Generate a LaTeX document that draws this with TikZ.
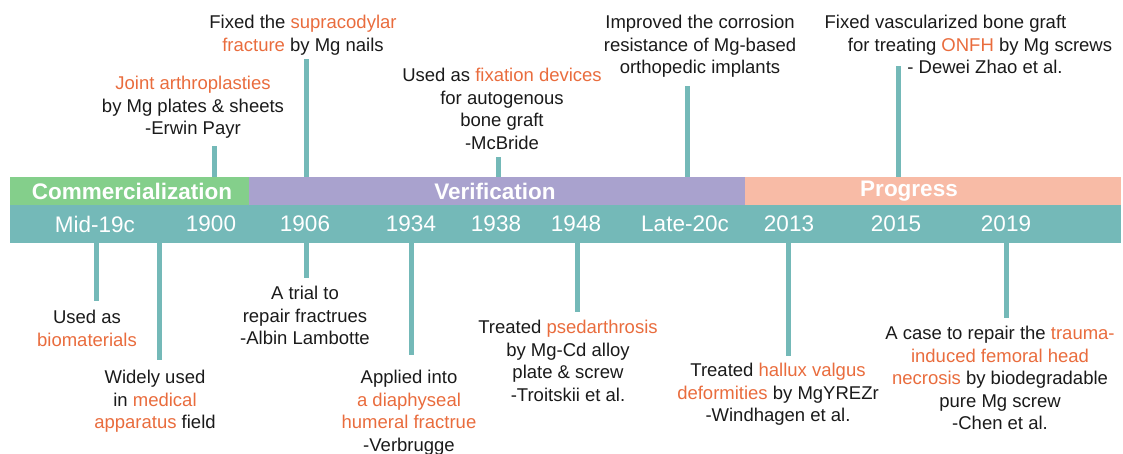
\documentclass[tikz,border=0pt]{standalone}
\usepackage{fontspec}
\setmainfont{Liberation Sans}
\usepackage{tikz}
\usetikzlibrary{positioning, calc}
\definecolor{axisteal}{HTML}{74B9B8}
\definecolor{commgreen}{HTML}{84CF8B}
\definecolor{verifpurple}{HTML}{A9A2CE}
\definecolor{progsalmon}{HTML}{F8BBA6}
\definecolor{keyorange}{HTML}{E96C3D}
\definecolor{notetext}{HTML}{1A1A1A}
\newcommand{\orng}[1]{\textcolor{keyorange}{#1}}

\begin{document}
\begin{tikzpicture}[x=1pt, y=-1pt,
  note/.style={align=center, anchor=north, inner sep=0pt, text=notetext, font=\fontsize{18.5}{22.5}\selectfont},
  yr/.style={inner sep=0pt, text=white, font=\fontsize{22.5}{24}\selectfont},
  phase/.style={inner sep=0pt, text=white, font=\fontsize{22.5}{24}\selectfont\bfseries},
  bar/.style={anchor=north west, inner sep=0pt, minimum height=#1},
  tick/.style={draw=axisteal, line width=5pt}]
  \useasboundingbox (0,0) rectangle (1123,454);

  \node[bar=28pt, fill=commgreen, minimum width=239pt] (comm) at (10,177) {};
  \node[bar=28pt, fill=verifpurple, minimum width=496pt] (verif) at (249,177) {};
  \node[bar=28pt, fill=progsalmon, minimum width=376pt] (prog) at (745,177) {};
  \node[bar=38pt, fill=axisteal, minimum width=1111pt] (axis) at (10,205) {};

  \node[phase] (commlabel) at (132,191) {Commercialization};
  \node[phase] (veriflabel) at (495,191) {Verification};
  \node[phase] (proglabel) at (909,191) {Progress};

  \foreach \x/\t/\n in {95/Mid-19c/mid, 211/1900/a, 305/1906/b, 411/1934/c, 496/1938/d,
                        576/1948/e, 685/Late-20c/late, 789/2013/f, 896/2015/g, 1006/2019/h}
    \node[yr] (yr\n) at (\x,224) {\t};

  \coordinate (up1900) at (214,146);
  \coordinate (up1906) at (306,59);
  \coordinate (up1938) at (498,157);
  \coordinate (uplate) at (687,86);
  \coordinate (up2015) at (898,66);
  \foreach \e in {up1900, up1906, up1938, uplate, up2015}
    \draw[tick] (\e |- comm.north) -- (\e);

  \coordinate (dnmid) at (96,301);
  \coordinate (dn1900) at (159,360);
  \coordinate (dn1906) at (306,278);
  \coordinate (dn1934) at (411,355);
  \coordinate (dn1948) at (577,312);
  \coordinate (dn2013) at (788,356);
  \coordinate (dn2019) at (1006,318);
  \foreach \e in {dnmid, dn1900, dn1906, dn1934, dn1948, dn2013, dn2019}
    \draw[tick] (\e |- axis.south) -- (\e);

  \node[note] (payr) at (193,76) {\orng{Joint arthroplasties}\\by Mg plates \& sheets\\-Erwin Payr};
  \node[note] (supra) at (303,15) {Fixed the \orng{supracodylar}\\\orng{fracture} by Mg nails};
  \node[note] (mcbride) at (502,68) {Used as \orng{fixation devices}\\for autogenous\\bone graft\\-McBride};
  \node[note] (corrosion) at (700,15) {Improved the corrosion\\resistance of Mg-based\\orthopedic implants};
  \node[note] (zhao) at (980,15) {Fixed vascularized bone graft\hspace*{69pt}\\for treating \orng{ONFH} by Mg screws\\\hspace*{10pt}- Dewei Zhao et al.};

  \node[note] (bio) at (87,310) {Used as\\\orng{biomaterials}};
  \node[note] (medical) at (155,370) {Widely used\\in \orng{medical}\\\orng{apparatus} field};
  \node[note] (lambotte) at (305,286) {A trial to\\repair fractrues\\-Albin Lambotte};
  \node[note] (verbrugge) at (409,370) {Applied into\\\orng{a diaphyseal}\\\orng{humeral fractrue}\\-Verbrugge};
  \node[note] (troitskii) at (568,320) {Treated \orng{psedarthrosis}\\by Mg-Cd alloy\\plate \& screw\\-Troitskii et al.};
  \node[note] (windhagen) at (778,363) {Treated \orng{hallux valgus}\\\orng{deformities} by MgYREZr\\-Windhagen et al.};
  \node[note] (chen) at (1000,326) {A case to repair the \orng{trauma-}\\\orng{induced femoral head}\\\orng{necrosis} by biodegradable\\pure Mg screw\\-Chen et al.};
\end{tikzpicture}
\end{document}
